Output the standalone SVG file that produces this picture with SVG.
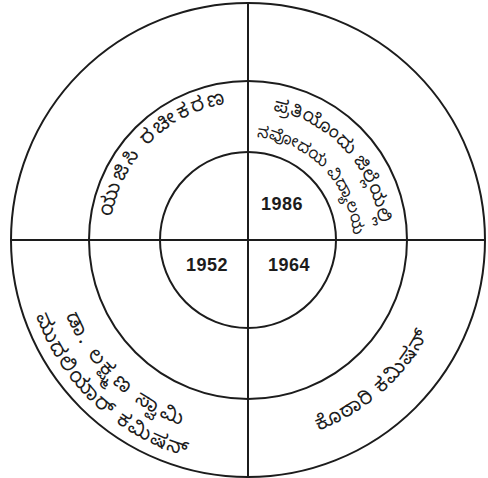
<svg xmlns="http://www.w3.org/2000/svg" xmlns:xlink="http://www.w3.org/1999/xlink" width="488" height="478" viewBox="0 0 488 478">
<style>
.ring{fill:none;stroke:#1c1c1c;stroke-width:2}
.axis{stroke:#1c1c1c;stroke-width:2}
.yr{font-family:"Liberation Sans",Arial,sans-serif;font-weight:bold;font-size:18px;fill:#1c1c1c;text-anchor:middle;letter-spacing:0.5px}
.kn{font-family:"Noto Sans Kannada","Noto Serif Kannada","Lohit Kannada","Noto Sans",sans-serif;font-size:20px;fill:#1c1c1c}
</style>
<defs>
<path id="pTL" d="M114.7,275.7 A138,138 0 0 1 283.7,106.7"/>
<path id="pTRo" d="M218.3,111.4 A132,132 0 0 1 374.2,278.6"/>
<path id="pTRi" d="M222.0,140.0 A106,106 0 0 1 350.0,270.0"/>
<path id="pBLo" d="M29.0,188.2 A225,225 0 0 0 312.7,455.5"/>
<path id="pBLi" d="M56.6,193.3 A197,197 0 0 0 303.3,429.1"/>
<path id="pBR" d="M183.2,432.4 A203,203 0 0 0 447.0,199.9"/>
</defs>
<g id="rings">
<circle class="ring" cx="248" cy="240" r="237"/>
<circle class="ring" cx="248" cy="240" r="159"/>
<circle class="ring" cx="248" cy="240" r="88"/>
</g>
<g id="connectors">
<line class="axis" x1="248" y1="3" x2="248" y2="477"/>
<line class="axis" x1="11" y1="240" x2="485" y2="240"/>
</g>
<g id="node-1986"><text class="yr" x="282" y="209.5">1986</text></g>
<g id="node-1952"><text class="yr" x="207" y="271">1952</text></g>
<g id="node-1964"><text class="yr" x="289" y="271">1964</text></g>
<g id="node-ugc"><text class="kn"><textPath xlink:href="#pTL" href="#pTL" startOffset="50%" text-anchor="middle" textLength="171" lengthAdjust="spacing">ಯುಜಿಸಿ ರಚೀಕರಣ</textPath></text></g>
<g id="node-navodaya">
<text class="kn" style="font-size:18px"><textPath xlink:href="#pTRo" href="#pTRo" startOffset="50%" text-anchor="middle" textLength="166" lengthAdjust="spacing">ಪ್ರತಿಯೊಂದು ಜಿಲ್ಲೆಯಲ್ಲಿ</textPath></text>
<text class="kn" style="font-size:16px"><textPath xlink:href="#pTRi" href="#pTRi" startOffset="50%" text-anchor="middle">ನವೋದಯ ವಿದ್ಯಾಲಯ</textPath></text>
</g>
<g id="node-mudaliar">
<text class="kn"><textPath xlink:href="#pBLo" href="#pBLo" startOffset="50%" text-anchor="middle" textLength="212" lengthAdjust="spacing">ಮುದಲಿಯಾರ್ ಕಮಿಷನ್</textPath></text>
<text class="kn"><textPath xlink:href="#pBLi" href="#pBLi" startOffset="50%" text-anchor="middle" textLength="163" lengthAdjust="spacing">ಡಾ. ಲಕ್ಷ್ಮಣ ಸ್ವಾಮಿ</textPath></text>
</g>
<g id="node-kothari"><text class="kn"><textPath xlink:href="#pBR" href="#pBR" startOffset="50%" text-anchor="middle" textLength="149" lengthAdjust="spacing">ಕೊಠಾರಿ ಕಮಿಷನ್</textPath></text></g>
</svg>
